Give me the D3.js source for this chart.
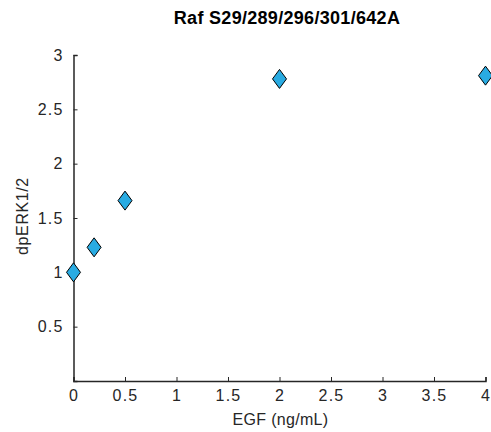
<!DOCTYPE html>
<html>
<head>
<meta charset="utf-8">
<script src="https://cdn.jsdelivr.net/npm/d3@7"></script>
<style>
  html, body { margin: 0; padding: 0; background: #fff; }
  svg { display: block; font-family: "Liberation Sans", Arial, sans-serif; }
</style>
</head>
<body>
<svg id="chart" width="491" height="432"></svg>
<script>
// EGF dose vs. dpERK1/2 response
const egfDose = [0, 0.2, 0.5, 2, 4];
const dpErk = [1.0, 1.23, 1.66, 2.78, 2.81];
const xTicks = [0, 0.5, 1, 1.5, 2, 2.5, 3, 3.5, 4];
const yTicks = [0.5, 1, 1.5, 2, 2.5, 3];

const titleText = "Raf S29/289/296/301/642A";
const xLabel = "EGF (ng/mL)";
const yLabel = "dpERK1/2";

const svg = d3.select("#chart");
const plotLeft = 73.5, plotRight = 485.5, plotTop = 55, plotBottom = 381;
const ink = "#262626";

const x = d3.scaleLinear().domain([0, 4]).range([plotLeft, plotRight]);
const y = d3.scaleLinear().domain([0, 3]).range([plotBottom, plotTop]);

// x axis, ticks pointing inward
const gx = svg.append("g")
  .attr("transform", `translate(0,${plotBottom})`)
  .call(d3.axisBottom(x).tickValues(xTicks).tickFormat(d3.format("")).tickSize(-4).tickPadding(9));
// y axis, ticks pointing inward
const gy = svg.append("g")
  .attr("transform", `translate(${plotLeft},0)`)
  .call(d3.axisLeft(y).tickValues(yTicks).tickFormat(d3.format("")).tickSize(-4).tickPadding(10));

[gx, gy].forEach(g => {
  g.select(".domain").attr("stroke", ink).attr("stroke-width", 1.5);
  g.selectAll(".tick line").attr("stroke", ink).attr("stroke-width", 1);
  g.selectAll(".tick text").attr("fill", ink).style("font-size", "16px")
    .style("letter-spacing", "1.2px")
    .style("font-family", "'Liberation Sans', Arial, sans-serif");
});

// data markers: diamonds
const dw = 7, dh = 9.5;
svg.append("g").selectAll("path")
  .data(egfDose.map((d, i) => [d, dpErk[i]]))
  .join("path")
  .attr("d", d => {
    const cx = x(d[0]), cy = y(d[1]);
    return `M${cx},${cy - dh}L${cx + dw},${cy}L${cx},${cy + dh}L${cx - dw},${cy}Z`;
  })
  .attr("fill", "#29abe2")
  .attr("stroke", "#000")
  .attr("stroke-width", 1);

// title and axis labels
svg.append("text")
  .attr("x", 287).attr("y", 24)
  .attr("text-anchor", "middle")
  .attr("font-weight", "bold").attr("font-size", 18)
  .style("letter-spacing", "0.3px")
  .attr("fill", "#000")
  .text(titleText);

svg.append("text")
  .attr("x", (plotLeft + plotRight) / 2 + 1).attr("y", 424.5)
  .attr("text-anchor", "middle")
  .attr("font-size", 16).attr("fill", ink)
  .style("letter-spacing", "0.3px")
  .text(xLabel);

svg.append("text")
  .attr("transform", `translate(27.5,216) rotate(-90)`)
  .attr("text-anchor", "middle")
  .attr("font-size", 16).attr("fill", ink)
  .style("letter-spacing", "0.6px")
  .text(yLabel);
</script>
</body>
</html>
